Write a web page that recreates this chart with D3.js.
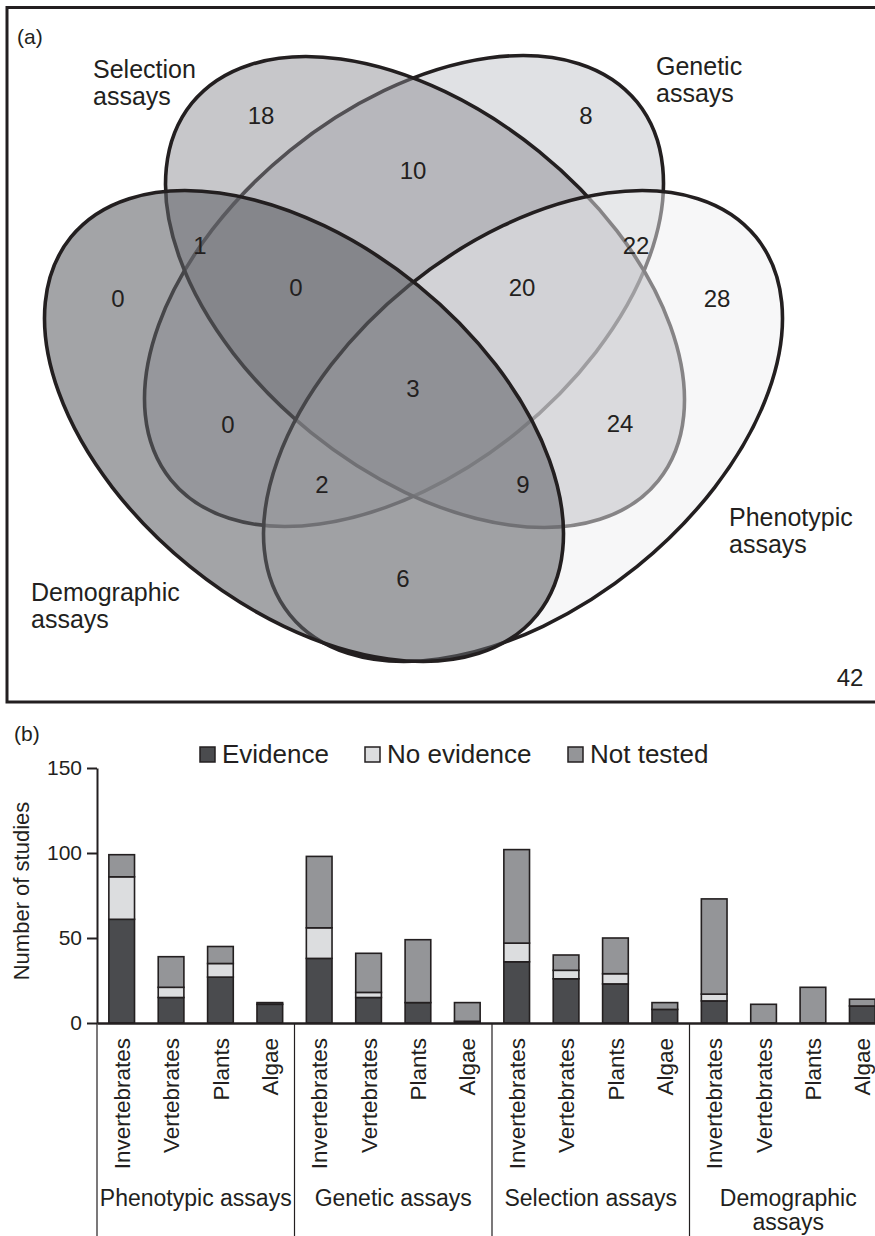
<!DOCTYPE html>
<html>
<head>
<meta charset="utf-8">
<script src="https://cdn.jsdelivr.net/npm/d3@7"></script>
<style>
  html, body { margin: 0; padding: 0; background: #fff; }
  svg { display: block; }
  text { font-family: "Liberation Sans", Arial, Helvetica, sans-serif; fill: #231f20; }
</style>
</head>
<body>
<svg id="chart" width="875" height="1236"></svg>
<script>
// ---------------- DATA ----------------
// Panel (a): Venn diagram
const vennSets = ["Demographic", "Selection", "Genetic", "Phenotypic"];
const vennSetLabels = [["Demographic", "assays"], ["Selection", "assays"], ["Genetic", "assays"], ["Phenotypic", "assays"]];
const vennRegionKeys = ["S", "G", "SG", "DS", "GP", "D", "DSG", "SGP", "P", "DSGP", "DG", "SP", "DGP", "DSP", "DP", "none"];
const vennRegionCounts = [18, 8, 10, 1, 22, 0, 0, 20, 28, 3, 0, 24, 2, 9, 6, 42];

// Panel (b): stacked bars
const groups = ["Phenotypic assays", "Genetic assays", "Selection assays", "Demographic assays"];
const taxa = ["Invertebrates", "Vertebrates", "Plants", "Algae"];
const seriesKeys = ["Evidence", "No evidence", "Not tested"];
const evidence   = [61, 15, 27, 11,  38, 15, 12, 1,  36, 26, 23, 8,  13, 0, 0, 10];
const noEvidence = [25,  6,  8,  0,  18,  3,  0, 0,  11,  5,  6, 0,   4, 0, 0, 0];
const notTested  = [13, 18, 10,  1,  42, 23, 37, 11, 55,  9, 21, 4,  56, 11, 21, 4];
const yTicks = [0, 50, 100, 150];

// ---------------- LAYOUT ----------------
const svg = d3.select("#chart");
const ink = "#231f20";

// ===== Panel (a) =====
svg.append("rect").attr("x", 7).attr("y", 7.5).attr("width", 885).attr("height", 694.5)
  .attr("fill", "none").attr("stroke", ink).attr("stroke-width", 3);
svg.append("text").attr("x", 17).attr("y", 44).attr("font-size", 21).text("(a)");

const ellA = 300, ellB = 181, ellRot = 39;
const ellipseGeom = {
  Genetic:     {cx: 404, cy: 291, rot: -ellRot, fill: "rgb(224,225,228)", op: 1},
  Selection:   {cx: 425, cy: 292, rot:  ellRot, fill: "rgb(135,137,142)", op: 0.47},
  Phenotypic:  {cx: 523, cy: 426, rot: -ellRot, fill: "rgb(239,239,241)", op: 0.49},
  Demographic: {cx: 304, cy: 426, rot:  ellRot, fill: "rgb(96,98,104)",  op: 0.58}
};
const drawOrder = ["Genetic", "Selection", "Phenotypic", "Demographic"];
const vg = svg.append("g");
drawOrder.forEach(name => {
  const e = ellipseGeom[name];
  vg.append("ellipse")
    .attr("cx", 0).attr("cy", 0).attr("rx", ellA).attr("ry", ellB)
    .attr("transform", `translate(${e.cx},${e.cy}) rotate(${e.rot})`)
    .attr("fill", e.fill).attr("fill-opacity", e.op)
    .attr("stroke", ink).attr("stroke-width", 3.6);
});

// set labels (layout positions)
const setLabelPos = {
  Demographic: {x: 31, y: 601},
  Selection:   {x: 93, y: 78},
  Genetic:     {x: 656, y: 75},
  Phenotypic:  {x: 729, y: 526}
};
vennSets.forEach((s, i) => {
  const p = setLabelPos[s];
  const t = svg.append("text").attr("x", p.x).attr("y", p.y).attr("font-size", 25);
  vennSetLabels[i].forEach((line, j) => {
    t.append("tspan").attr("x", p.x).attr("dy", j === 0 ? 0 : 27).text(line);
  });
});

// region count positions (layout)
const regionPos = {
  S: [261, 115], G: [586, 115], SG: [413, 170], DS: [200, 245], GP: [636, 245],
  D: [118, 298], DSG: [296, 287], SGP: [522, 287], P: [717, 298], DSGP: [413, 388],
  DG: [228, 424], SP: [620, 423], DGP: [322, 484], DSP: [523, 484], DP: [403, 578],
  none: [850, 677]
};
vennRegionKeys.forEach((k, i) => {
  const p = regionPos[k];
  svg.append("text").attr("x", p[0]).attr("y", p[1]).attr("dy", "0.36em")
    .attr("text-anchor", "middle").attr("font-size", 24).text(vennRegionCounts[i]);
});

// ===== Panel (b) =====
svg.append("text").attr("x", 14).attr("y", 741).attr("font-size", 21).text("(b)");

const cats = [];
groups.forEach(g => taxa.forEach(t => cats.push(g + "|" + t)));
const rows = cats.map((c, i) => ({
  cat: c, "Evidence": evidence[i], "No evidence": noEvidence[i], "Not tested": notTested[i]
}));

const x = d3.scaleBand().domain(cats).range([97, 887]).paddingInner(0.48).paddingOuter(0.24);
const y = d3.scaleLinear().domain([0, 150]).range([1023, 768]);
const colors = d3.scaleOrdinal().domain(seriesKeys).range(["#4a4b4e", "#dcdddf", "#949598"]);

const stack = d3.stack().keys(seriesKeys)(rows);
const bg = svg.append("g");
stack.forEach(layer => {
  bg.selectAll(null).data(layer.filter(d => d[1] - d[0] > 0)).join("rect")
    .attr("x", d => x(d.data.cat))
    .attr("y", d => y(d[1]))
    .attr("width", x.bandwidth())
    .attr("height", d => y(d[0]) - y(d[1]))
    .attr("fill", colors(layer.key))
    .attr("stroke", ink).attr("stroke-width", 1.6);
});

// y axis
const yAxis = svg.append("g").attr("transform", "translate(97,0)")
  .call(d3.axisLeft(y).tickValues(yTicks).tickSize(10).tickSizeOuter(0).tickPadding(5));
yAxis.select(".domain").attr("stroke", ink).attr("stroke-width", 2);
yAxis.selectAll(".tick line").attr("stroke", ink).attr("stroke-width", 2);
yAxis.selectAll(".tick text").attr("font-size", 21).attr("fill", ink)
  .attr("font-family", "Liberation Sans, Arial, sans-serif");

svg.append("text")
  .attr("transform", "translate(29,891) rotate(-90)")
  .attr("text-anchor", "middle").attr("font-size", 22).text("Number of studies");

// x axis
const xAxis = svg.append("g").attr("transform", "translate(0,1023)")
  .call(d3.axisBottom(x).tickSize(0).tickSizeOuter(0).tickFormat(d => d.split("|")[1]));
xAxis.select(".domain").attr("stroke", ink).attr("stroke-width", 2.6);
xAxis.selectAll(".tick text")
  .attr("font-size", 22.5).attr("fill", ink)
  .attr("font-family", "Liberation Sans, Arial, sans-serif")
  .attr("text-anchor", "end")
  .attr("transform", "rotate(-90)")
  .attr("x", -15).attr("y", 0).attr("dy", "0.36em");

// group separators and labels
const step = x.step();
const groupW = step * taxa.length;
groups.forEach((g, i) => {
  const x0 = 97 + i * groupW;
  svg.append("line").attr("x1", x0).attr("x2", x0).attr("y1", 1023).attr("y2", 1236)
    .attr("stroke", ink).attr("stroke-width", 1.2);
  const cx = x0 + groupW / 2;
  const lines = i === 3 ? ["Demographic", "assays"] : [g];
  lines.forEach((ln, j) => {
    svg.append("text").attr("x", cx).attr("y", 1206 + j * 24)
      .attr("text-anchor", "middle").attr("font-size", 23).text(ln);
  });
});

// legend
const legendPos = [{sx: 200, tx: 222}, {sx: 365, tx: 387}, {sx: 568, tx: 590}];
seriesKeys.forEach((k, i) => {
  const p = legendPos[i];
  svg.append("rect").attr("x", p.sx).attr("y", 747).attr("width", 15).attr("height", 15)
    .attr("fill", colors(k)).attr("stroke", ink).attr("stroke-width", 1.5);
  svg.append("text").attr("x", p.tx).attr("y", 763).attr("font-size", 26).text(k);
});
</script>
</body>
</html>
